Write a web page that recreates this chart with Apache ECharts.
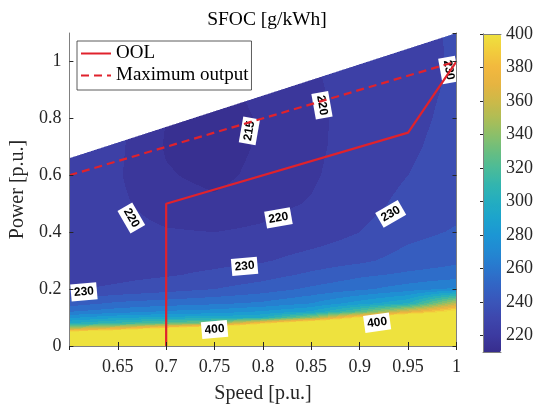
<!DOCTYPE html>
<html>
<head>
<meta charset="utf-8">
<script src="https://cdn.jsdelivr.net/npm/echarts@6/dist/echarts.min.js"></script>
<style>
  html, body { margin: 0; padding: 0; background: #fff; }
  #chart { width: 539px; height: 409px; }
</style>
</head>
<body>
<div id="chart"></div>
<script>
// Engine SFOC map [g/kWh] on a speed / power grid (p.u.)
const gridSpeeds = [0.6, 0.65, 0.7, 0.75, 0.8, 0.85, 0.9, 0.95, 1.0];
const gridPowers = [0, 0.04, 0.06, 0.08, 0.1, 0.12, 0.15, 0.2, 0.25, 0.3, 0.4, 0.5, 0.6, 0.7, 0.8, 0.9, 1.0, 1.1];
// one row per power level, one value per speed
const sfocRows = [
  [700,   700,   700,   700,   700,   700,   700,   700,   700],
  [440,   460,   480,   500,   520,   540,   560,   580,   600],
  [360,   380,   410,   440,   460,   480,   500,   520,   540],
  [300,   312,   325,   340,   390,   430,   460,   480,   500],
  [278,   288,   293,   295,   300,   340,   400,   440,   450],
  [260,   266,   272,   275,   282,   292,   325,   370,   410],
  [245,   252,   255,   258,   262,   270,   285,   300,   355],
  [229,   232,   236,   240,   245,   252,   258,   265,   272],
  [225,   227,   229,   232,   236,   242,   248,   252,   255],
  [223.5, 224.5, 226,   227,   229,   234,   238,   244,   248],
  [222.5, 222,   220.5, 220,   221,   224,   230,   237,   241],
  [222,   221,   217.5, 216,   218,   220.5, 226,   233,   237],
  [222,   220.5, 215.5, 213.5, 216.5, 219,   224,   230,   235],
  [222.5, 221,   214.5, 212.5, 215.8, 218.5, 223,   228.5, 233.5],
  [223,   221.5, 215,   213,   215.5, 218.5, 222.5, 227.5, 232.5],
  [223.5, 222,   216,   214,   216,   219,   222.5, 227,   231.5],
  [224,   222.5, 217,   215,   217,   219.5, 223,   227,   231],
  [224.5, 223,   218,   216,   218,   220,   224,   227.5, 231]
];
// Upper edge of the operating envelope
const limitSpeeds = [0.6, 1.0];
const limitPowers = [0.66, 1.1];

// Filled contour levels and labelled contours
const contourLevels = [210, 215, 220, 230, 240, 250, 260, 270, 280, 290, 300,
  310, 320, 330, 340, 350, 360, 370, 380, 390, 400];
const labelSpeeds = [0.786, 0.861, 0.992, 0.664, 0.816, 0.932, 0.781, 0.615, 0.750, 0.918];
const labelPowers = [0.756, 0.846, 0.970, 0.450, 0.450, 0.464, 0.280, 0.190, 0.058, 0.082];
const labelLevels = [215, 220, 230, 220, 220, 230, 230, 230, 400, 400];
const labelAngles = [80, -80, -80, -60, 10, 30, 5, 5, 5, 8];

// Operating lines
const oolSpeeds = [0.7, 0.7, 0.95, 1.0];
const oolPowers = [0, 0.5, 0.75, 1.0];
const maxSpeeds = [0.6, 1.0];
const maxPowers = [0.6, 1.0];

// Colour bar
const cbarMin = 210, cbarMax = 400;
const cbarTicks = [220, 240, 260, 280, 300, 320, 340, 360, 380, 400];

// parula-style colormap, evenly spaced stops from cbarMin to cbarMax
const cmapStops = ['#372d8c', '#3c3aa0', '#3e46ac', '#3a55b9', '#3264c4', '#2a76cd',
  '#2288d2', '#1c96d4', '#1ca3cd', '#23adc0', '#32b5af', '#4bbb98', '#69be80',
  '#8cbf69', '#afbd55', '#cdb948', '#e6b441', '#f2b83e', '#f2cd3c', '#eee23e'];

function hexRgb(h) { return [1, 3, 5].map(k => parseInt(h.substr(k, 2), 16)); }
function colormap(t) {
  t = Math.max(0, Math.min(1, t)) * (cmapStops.length - 1);
  const k = Math.min(Math.floor(t), cmapStops.length - 2);
  const f = t - k;
  const a = hexRgb(cmapStops[k]), b = hexRgb(cmapStops[k + 1]);
  return 'rgb(' + a.map((x, n) => Math.round(x + (b[n] - x) * f)).join(',') + ')';
}
// each band takes the colour at its mid value; everything above the top level is the top colour
const levelColors = contourLevels.map((l, k) => {
  const mid = k + 1 < contourLevels.length ? (l + contourLevels[k + 1]) / 2 : l;
  return colormap((mid - cbarMin) / (cbarMax - cbarMin));
});
function bandColor(v) {
  let k = 0;
  while (k + 1 < contourLevels.length && v >= contourLevels[k + 1]) k++;
  return levelColors[k];
}

const fieldCells = [];
for (let j = 0; j < gridPowers.length - 1; j++) {
  for (let i = 0; i < gridSpeeds.length - 1; i++) {
    fieldCells.push([(gridSpeeds[i] + gridSpeeds[i + 1]) / 2, (gridPowers[j] + gridPowers[j + 1]) / 2, i, j, sfocRows[j][i]]);
  }
}

// Each grid cell is shaded pixel column by pixel column with the filled-contour colour
function renderField(params, api) {
  const i = api.value(2), j = api.value(3);
  const s0 = gridSpeeds[i], s1 = gridSpeeds[i + 1];
  const p0 = gridPowers[j], p1 = gridPowers[j + 1];
  const lo = api.coord([s0, p0]), hi = api.coord([s1, p1]);
  const v00 = sfocRows[j][i], v10 = sfocRows[j][i + 1];
  const v01 = sfocRows[j + 1][i], v11 = sfocRows[j + 1][i + 1];
  const la = api.coord([limitSpeeds[0], limitPowers[0]]);
  const lb = api.coord([limitSpeeds[1], limitPowers[1]]);
  const xL = Math.round(lo[0]), xR = Math.round(hi[0]);
  const yT = Math.round(hi[1]), yB = Math.round(lo[1]);
  const children = [];
  const pushRun = (x, y0, y1, fill) => children.push({
    type: 'rect', shape: { x: x, y: y0, width: 1, height: y1 - y0 }, style: { fill: fill }
  });
  for (let x = xL; x < xR; x++) {
    const cx = x + 0.5;
    const u = (cx - lo[0]) / (hi[0] - lo[0]);
    const edge = la[1] + (cx - la[0]) / (lb[0] - la[0]) * (lb[1] - la[1]);
    let runColor = null, runStart = 0;
    for (let y = yT; y < yB; y++) {
      let color = null;
      if (y + 1 > edge) {
        const w = (lo[1] - (y + 0.5)) / (lo[1] - hi[1]);
        const v = (1 - u) * (1 - w) * v00 + u * (1 - w) * v10 + (1 - u) * w * v01 + u * w * v11;
        color = bandColor(v);
      }
      if (color !== runColor) {
        if (runColor) pushRun(x, runStart, y, runColor);
        runColor = color;
        runStart = color ? Math.max(y, edge) : y;
      }
    }
    if (runColor) pushRun(x, runStart, yB, runColor);
  }
  return { type: 'group', children: children };
}

function renderLabel(params, api) {
  const p = api.coord([api.value(0), api.value(1)]);
  return {
    type: 'text', x: p[0], y: p[1], rotation: api.value(3) * Math.PI / 180,
    style: {
      text: String(api.value(2)), fill: '#000', align: 'center', verticalAlign: 'middle',
      font: 'bold 12px "Liberation Sans", Arial, sans-serif',
      backgroundColor: '#fff', padding: [3, 3, 2, 3]
    }
  };
}

const serif = '"Liberation Serif", "Times New Roman", serif';
const boxColor = '#808080';
const inkColor = '#262626';
const red = '#e0222c';

const option = {
  animation: false,
  title: {
    text: 'SFOC [g/kWh]', left: 262, top: 5, textAlign: 'center',
    textStyle: { fontFamily: serif, fontSize: 19.5, fontWeight: 'normal', color: '#000' }
  },
  legend: {
    left: 77, top: 41, orient: 'vertical',
    backgroundColor: '#fff', borderColor: '#333', borderWidth: 0.8,
    padding: [3, 3, 5, 3], itemGap: 3, itemWidth: 30, itemHeight: 14,
    itemStyle: { color: 'rgba(0,0,0,0)', borderColor: 'rgba(0,0,0,0)', borderWidth: 0, opacity: 0 },
    textStyle: { fontFamily: serif, fontSize: 19, color: '#000' },
    data: ['OOL', 'Maximum output']
  },
  grid: [
    { left: 68, top: 33, width: 388.5, height: 320 },
    { left: 483, top: 34, width: 18, height: 318.5 }
  ],
  visualMap: {
    type: 'continuous', min: cbarMin, max: cbarMax, dimension: 4, seriesIndex: 0,
    left: 483, top: 34, itemWidth: 18, itemHeight: 318.5, padding: 0,
    calculable: false, hoverLink: false, realtime: false,
    inRange: { color: cmapStops }, text: null, showLabel: false
  },
  xAxis: [
    {
      gridIndex: 0, type: 'value', min: 0.6, max: 1, interval: 0.05, position: 'bottom',
      name: 'Speed [p.u.]', nameLocation: 'middle', nameGap: 38,
      nameTextStyle: { fontFamily: serif, fontSize: 20, color: inkColor },
      axisLine: { lineStyle: { color: boxColor, width: 1 } },
      axisTick: { inside: true, length: 4, lineStyle: { color: inkColor } },
      axisLabel: { showMinLabel: false, margin: 12, fontFamily: serif, fontSize: 18, color: inkColor },
      splitLine: { show: false }, z: 5
    },
    {
      gridIndex: 0, type: 'value', min: 0.6, max: 1, interval: 0.05, position: 'top',
      axisLine: { lineStyle: { color: boxColor, width: 1 } },
      axisTick: { inside: true, length: 4, lineStyle: { color: inkColor } },
      axisLabel: { show: false }, splitLine: { show: false }, z: 5
    },
    {
      gridIndex: 1, type: 'value', min: 0, max: 1, position: 'bottom',
      axisLine: { lineStyle: { color: boxColor } }, axisTick: { show: false },
      axisLabel: { show: false }, splitLine: { show: false }, z: 6
    },
    {
      gridIndex: 1, type: 'value', min: 0, max: 1, position: 'top',
      axisLine: { lineStyle: { color: boxColor } }, axisTick: { show: false },
      axisLabel: { show: false }, splitLine: { show: false }, z: 6
    }
  ],
  yAxis: [
    {
      gridIndex: 0, type: 'value', min: 0, max: 1.1, interval: 0.2, position: 'left',
      name: 'Power [p.u.]', nameLocation: 'middle', nameGap: 32, nameRotate: 90,
      nameTextStyle: { fontFamily: serif, fontSize: 20, color: inkColor },
      axisLine: { lineStyle: { color: boxColor, width: 1 } },
      axisTick: { inside: true, length: 4, lineStyle: { color: inkColor } },
      axisLabel: { showMaxLabel: false, margin: 8, fontFamily: serif, fontSize: 18, color: inkColor },
      splitLine: { show: false }, z: 5
    },
    {
      gridIndex: 0, type: 'value', min: 0, max: 1.1, interval: 0.2, position: 'right',
      axisLine: { lineStyle: { color: boxColor, width: 1 } },
      axisTick: { inside: true, length: 4, lineStyle: { color: inkColor } },
      axisLabel: { show: false }, splitLine: { show: false }, z: 5
    },
    {
      gridIndex: 1, type: 'value', min: cbarMin, max: cbarMax, position: 'left',
      axisLine: { lineStyle: { color: boxColor } }, axisTick: { show: false },
      axisLabel: { show: false }, splitLine: { show: false }, z: 6
    },
    {
      gridIndex: 1, type: 'value', min: cbarMin, max: cbarMax, position: 'right',
      axisLine: { lineStyle: { color: boxColor } },
      axisTick: { inside: true, length: 3, customValues: cbarTicks, lineStyle: { color: inkColor } },
      axisLabel: { customValues: cbarTicks, margin: 5, fontFamily: serif, fontSize: 18, color: inkColor },
      splitLine: { show: false }, z: 6
    }
  ],
  series: [
    {
      type: 'custom', name: 'SFOC', xAxisIndex: 0, yAxisIndex: 0,
      data: fieldCells, renderItem: renderField, silent: true,
      encode: { x: 0, y: 1 }, z: 1
    },
    {
      type: 'custom', name: 'labels', xAxisIndex: 0, yAxisIndex: 0, silent: true,
      data: labelLevels.map((l, k) => [labelSpeeds[k], labelPowers[k], l, labelAngles[k]]),
      renderItem: renderLabel, encode: { x: 0, y: 1 }, z: 2
    },
    {
      type: 'line', name: 'OOL', xAxisIndex: 0, yAxisIndex: 0, symbol: 'none',
      data: oolSpeeds.map((s, k) => [s, oolPowers[k]]),
      lineStyle: { color: red, width: 2.2 }, itemStyle: { color: red }, z: 3
    },
    {
      type: 'line', name: 'Maximum output', xAxisIndex: 0, yAxisIndex: 0, symbol: 'none',
      data: maxSpeeds.map((s, k) => [s, maxPowers[k]]),
      lineStyle: { color: red, width: 2.2, type: [8, 5] }, itemStyle: { color: red }, z: 3
    }
  ]
};

const chart = echarts.init(document.getElementById('chart'), null, { renderer: 'canvas' });
chart.setOption(option);
</script>
</body>
</html>
